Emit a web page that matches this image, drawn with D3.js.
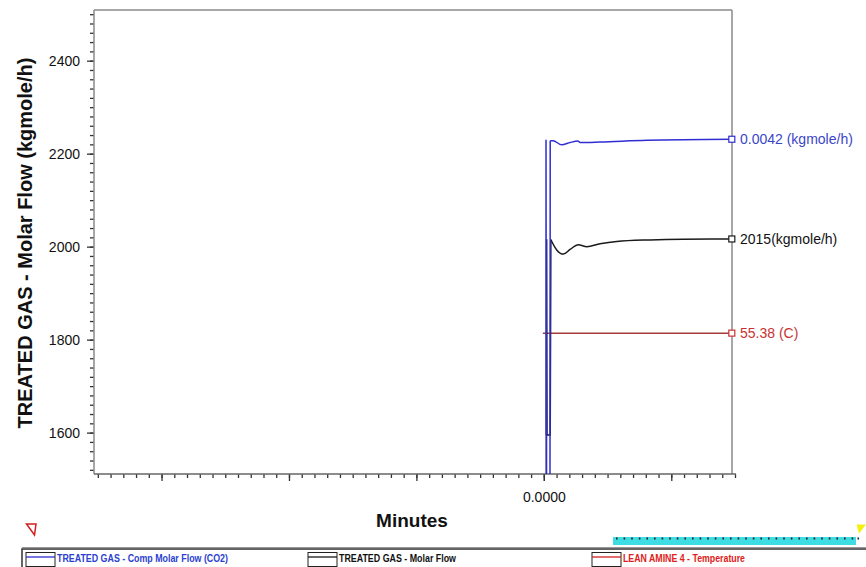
<!DOCTYPE html>
<html><head><meta charset="utf-8">
<script src="https://cdn.jsdelivr.net/npm/d3@7"></script>
<style>body{margin:0;background:#fff;} svg{display:block;font-family:Arial,"Liberation Sans",sans-serif;}</style>
</head><body><svg id="c" width="866" height="567"></svg>
<script>
// ---- data (plotted in left-axis units) ----
const xDomain = [-35.3, 15];
const yDomain = [1511, 2509];
const yMajorTicks = [1600, 1800, 2000, 2200, 2400];
const yMinorTicks = d3.range(1520, 2501, 20);
const xMinorTicks = d3.range(-35, 16, 1);
const xMajorTicks = [-30, -20, -10, 0, 10];
const xLabelTicks = [0];
const xLabelText = ["0.0000"];

// spike part (straight segments) and settling tail (smooth)
const co2SpikeTime  = [0.17, 0.17, 0.2, 0.48, 0.5];
const co2SpikeValue = [1595, 2230, 1400, 1400, 2228];
const co2TailTime  = [0.5, 0.72, 1.4, 2.06, 2.68, 2.84, 4.41, 8.08, 14.75];
const co2TailValue = [2228, 2228, 2219, 2224, 2227, 2224, 2225, 2229, 2231];

const flowSpikeTime  = [0.2, 0.22, 0.25, 0.5, 0.55];
const flowSpikeValue = [1400, 2016, 1595, 1595, 2015];
const flowTailTime  = [0.55, 0.62, 1.01, 1.53, 2.06, 2.71, 3.37, 4.41, 5.72, 8.34, 10.93, 14.75];
const flowTailValue = [2015, 2011, 1993, 1984, 1994, 2004, 2000, 2006, 2011, 2014.5, 2016, 2016.5];

const tempTime  = [-0.08, 14.75];
const tempValue = [1814, 1814];

const seriesNames = ["TREATED GAS - Comp Molar Flow (CO2)", "TREATED GAS - Molar Flow", "LEAN AMINE 4 - Temperature"];
const endLabels = ["0.0042 (kgmole/h)", "2015(kgmole/h)", "55.38 (C)"];
const lineColors = ["#2e2ed2", "#1a1a1a", "#a83a3a"];
const markerColors = ["#2e2ed2", "#1a1a1a", "#c83232"];
const textColors = ["#3a46c8", "#111111", "#c83232"];
const legendText = ["#2b3fd0", "#111111", "#e02020"];
const legendLine = ["#2e2ed2", "#1a1a1a", "#d02020"];

const yTitle = "TREATED GAS - Molar Flow (kgmole/h)";
const xTitle = "Minutes";

// ---- layout ----
const svg = d3.select("#c");
const L = 94, R = 732, T = 10, B = 474;
const x = d3.scaleLinear().domain(xDomain).range([L, 735]);
const y = d3.scaleLinear().domain(yDomain).range([B, T]);

svg.append("defs").append("clipPath").attr("id", "clip")
  .append("rect").attr("x", L).attr("y", T).attr("width", R - L + 1).attr("height", B - T);

// axes ticks
const yMinor = svg.append("g").attr("transform", `translate(${L},0)`)
  .call(d3.axisLeft(y).tickValues(yMinorTicks).tickSize(4).tickFormat(""));
const yMajor = svg.append("g").attr("transform", `translate(${L},0)`)
  .call(d3.axisLeft(y).tickValues(yMajorTicks).tickSize(7).tickPadding(7).tickFormat(d3.format("d")));
const xMinor = svg.append("g").attr("transform", `translate(0,${B})`)
  .call(d3.axisBottom(x).tickValues(xMinorTicks).tickSize(4).tickFormat(""));
const xMajor = svg.append("g").attr("transform", `translate(0,${B})`)
  .call(d3.axisBottom(x).tickValues(xMajorTicks).tickSize(7).tickFormat(() => ""));
const xLab = svg.append("g").attr("transform", `translate(0,${B})`)
  .call(d3.axisBottom(x).tickValues(xLabelTicks).tickSize(7).tickPadding(11)
    .tickFormat((d, i) => xLabelText[i]));
[yMinor, yMajor, xMinor, xMajor, xLab].forEach(g => {
  g.select(".domain").remove();
  g.selectAll("line").attr("stroke", "#333").attr("stroke-width", 1.3);
  g.selectAll("text").attr("font-size", 14).attr("fill", "#111")
    .attr("font-family", "Arial, 'Liberation Sans', sans-serif");
});

// frame
const frame = svg.append("g").attr("stroke", "#8a8a8a").attr("stroke-width", 1.5).attr("fill", "none");
frame.append("line").attr("x1", L).attr("x2", L).attr("y1", T).attr("y2", B);
frame.append("line").attr("x1", L).attr("x2", R).attr("y1", T).attr("y2", T);
frame.append("line").attr("x1", R).attr("x2", R).attr("y1", T).attr("y2", B);
frame.append("line").attr("x1", L).attr("x2", 736).attr("y1", B).attr("y2", B).attr("stroke", "#666");

// lines
const pts = (t, v) => t.map((d, k) => [d, v[k]]);
const straight = d3.line().x(d => x(d[0])).y(d => y(d[1]));
const smooth = d3.line().x(d => x(d[0])).y(d => y(d[1])).curve(d3.curveMonotoneX);
const plot = svg.append("g").attr("clip-path", "url(#clip)");
const draw = (data, gen, i) => plot.append("path").datum(data).attr("d", gen)
  .attr("fill", "none").attr("stroke", lineColors[i]).attr("stroke-width", 1.5);
draw(pts(tempTime, tempValue), straight, 2);
draw(pts(flowSpikeTime, flowSpikeValue), straight, 1);
draw(pts(flowTailTime, flowTailValue), smooth, 1);
draw(pts(co2SpikeTime, co2SpikeValue), straight, 0);
draw(pts(co2TailTime, co2TailValue), smooth, 0);

// end markers & labels
const ends = [
  [co2TailTime, co2TailValue],
  [flowTailTime, flowTailValue],
  [tempTime, tempValue]
];
ends.forEach(([t, v], i) => {
  const n = t.length - 1;
  const ex = x(t[n]), ey = y(v[n]);
  svg.append("rect").attr("x", ex - 3).attr("y", ey - 3).attr("width", 6).attr("height", 6)
    .attr("fill", "white").attr("stroke", markerColors[i]).attr("stroke-width", 1.2);
  svg.append("text").attr("x", 740).attr("y", ey + 5).attr("font-size", 14)
    .attr("fill", textColors[i]).text(endLabels[i]);
});

// titles
svg.append("text").attr("transform", "translate(32,243) rotate(-90)")
  .attr("text-anchor", "middle").attr("font-size", 20).attr("font-weight", "bold")
  .attr("fill", "#111").text(yTitle);
svg.append("text").attr("x", 412).attr("y", 527).attr("text-anchor", "middle")
  .attr("font-size", 19).attr("font-weight", "bold").attr("fill", "#111").text(xTitle);

// small triangles
svg.append("path").attr("d", "M26.5,524 L36,524 L34.5,535 Z").attr("fill", "none")
  .attr("stroke", "#d02020").attr("stroke-width", 1.5);
svg.append("path").attr("d", "M856.5,524.5 L866,524.5 L859,533.5 Z").attr("fill", "#f5ef10");

// cyan scroll bar
svg.append("rect").attr("x", 613).attr("y", 537).attr("width", 243).attr("height", 8).attr("fill", "#3ddde3");
const dots = svg.append("g").attr("fill", "#222");
d3.range(616, 855, 7.6).forEach(d => {
  dots.append("rect").attr("x", d).attr("y", 537.5).attr("width", 1.6).attr("height", 2);
});
dots.append("rect").attr("x", 857.5).attr("y", 537.5).attr("width", 1.6).attr("height", 2);

// legend strip
svg.append("rect").attr("x", 22).attr("y", 549).attr("width", 860).attr("height", 22)
  .attr("fill", "white").attr("stroke", "#333").attr("stroke-width", 1.5);
svg.append("line").attr("x1", 22).attr("x2", 866).attr("y1", 547.5).attr("y2", 547.5)
  .attr("stroke", "#999").attr("stroke-width", 1);
const legX = [26, 308, 592];
const legW = [171, 117, 122];
seriesNames.forEach((name, i) => {
  const g = svg.append("g");
  g.append("rect").attr("x", legX[i]).attr("y", 552.5).attr("width", 29).attr("height", 14)
    .attr("fill", "none").attr("stroke", "#222").attr("stroke-width", 1);
  g.append("line").attr("x1", legX[i]).attr("x2", legX[i] + 29).attr("y1", 557).attr("y2", 557)
    .attr("stroke", legendLine[i]).attr("stroke-width", 1.3);
  g.append("text").attr("x", legX[i] + 31).attr("y", 562).attr("font-size", 10)
    .attr("font-weight", "bold").attr("fill", legendText[i])
    .attr("textLength", legW[i]).attr("lengthAdjust", "spacingAndGlyphs").text(name);
});
</script></body></html>
